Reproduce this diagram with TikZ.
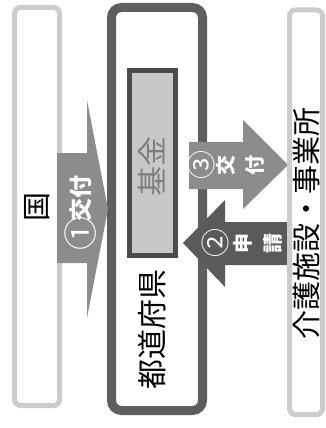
\documentclass[tikz,border=0pt]{standalone}
\usepackage{fontspec}
\newfontfamily\jp{Noto Sans CJK JP}
\definecolor{lightbd}{HTML}{CCCCCC}
\definecolor{midbd}{HTML}{5E5E5E}
\definecolor{fundfill}{HTML}{C8C8C8}
\definecolor{fundbd}{HTML}{4B4B4B}
\definecolor{arrowlt}{HTML}{8C8C8C}
\definecolor{arrowdk}{HTML}{5A5A5A}
\definecolor{fundtxt}{HTML}{7E7E7E}
\tikzset{
  lightbox/.style={draw=lightbd, line width=5pt, rounded corners=6pt},
  prefbox/.style={draw=midbd, line width=9pt, rounded corners=10pt},
  fundbox/.style={draw=fundbd, fill=fundfill, line width=5pt},
  arrowlabel/.style={text=white, rotate=90, align=center, inner sep=0pt, font=\jp\bfseries},
  circnum/.style={text=white, rotate=90, inner sep=0pt, font=\jp\fontsize{29}{29}\selectfont},
  bigtext/.style={rotate=90, inner sep=0pt, font=\jp}
}
\begin{document}
\begin{tikzpicture}[x=1pt,y=-1pt]
\useasboundingbox (0,0) rectangle (326,428);
% boxes
\draw[lightbox] (14.5,7.5) rectangle (59.5,405.5);
\coordinate (kuni) at (37,207);
\draw[prefbox] (111.5,7.5) rectangle (202.5,410.5);
\draw[fundbox] (129.5,70.5) rectangle (175.5,255.5);
% arrow 1 (kuni -> pref)
\fill[arrowlt] (57,153) -- (87,153) -- (87,100) -- (108,209) -- (87,318) -- (87,263) -- (57,263) -- cycle;
% arrow 3 (pref -> facilities)
\fill[arrowlt] (189,142) -- (243,142) -- (243,120) -- (288,165) -- (243,209) -- (243,189) -- (189,189) -- cycle;
% arrow 2 (facilities -> pref)
\fill[arrowdk] (288,222) -- (225,222) -- (225,200) -- (183,243) -- (225,287) -- (225,265) -- (288,265) -- cycle;
\draw[lightbox] (289.5,10) rectangle (322.5,414.5);
% texts
\node[bigtext, font=\jp\fontsize{29}{29}\selectfont] (kunit) at (kuni) {国};
\node[circnum, font=\jp\fontsize{34}{34}\selectfont] (a1n) at (81,233) {①};
\node[arrowlabel, font=\jp\bfseries\fontsize{23}{23}\selectfont] (a1) at (81,198) {交付};
\node[bigtext, text=fundtxt, font=\jp\fontsize{30}{30}\selectfont] (fund) at (152,166) {基金};
\node[bigtext, font=\jp\fontsize{30}{30}\selectfont] (pref) at (152,329) {都道府県};
\node[circnum] (a3n) at (201,165) {③};
\node[arrowlabel, font=\jp\bfseries\fontsize{20}{29}\selectfont] (a3) at (240.5,165) {交\\付};
\node[circnum] (a2n) at (215,243) {②};
\node[arrowlabel, font=\jp\bfseries\fontsize{20}{30}\selectfont] (a2) at (258,243) {申\\請};
\node[bigtext, font=\jp\fontsize{29}{29}\selectfont] (fac) at (307,223) {介護施設・事業所};
\end{tikzpicture}
\end{document}
